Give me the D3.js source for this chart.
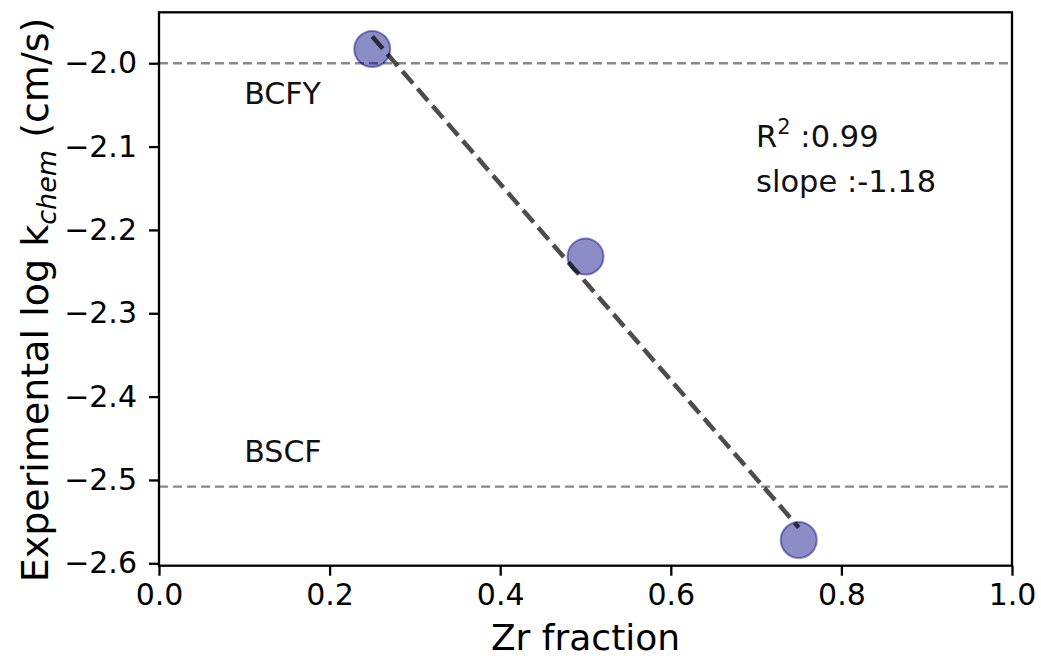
<!DOCTYPE html>
<html>
<head>
<meta charset="utf-8">
<script src="https://cdn.jsdelivr.net/npm/d3@7"></script>
<style>
  body { margin: 0; background: #fff; }
  svg { display: block; font-family: "DejaVu Sans", sans-serif; }
</style>
</head>
<body>
<svg width="1041" height="656"></svg>
<script>
// Measured points (Zr fraction vs experimental log k_chem)
const zrFraction = [0.25, 0.50, 0.75];
const logKchem = [-1.983, -2.232, -2.572];

// Linear fit end points
const fitX = [0.25, 0.75];
const fitY = [-1.968, -2.557];

// Reference materials (horizontal dashed lines)
const refNames = ['BCFY', 'BSCF'];
const refValues = [-2.0, -2.508];

const xTicks = [0.0, 0.2, 0.4, 0.6, 0.8, 1.0];
const yTicks = [-2.0, -2.1, -2.2, -2.3, -2.4, -2.5, -2.6];

const fitR2 = '0.99';
const fitSlope = '-1.18';

const svg = d3.select('svg');
const margin = { left: 159, right: 1012, top: 12.3, bottom: 565.7 };

const x = d3.scaleLinear().domain([0, 1]).range([margin.left, margin.right]);
const y = d3.scaleLinear().domain([-2.6029, -1.9389]).range([margin.bottom, margin.top]);

// reference lines
svg.append('g')
    .selectAll('line')
    .data(refValues)
    .enter().append('line')
        .attr('x1', margin.left)
        .attr('x2', margin.right)
        .attr('y1', d => y(d))
        .attr('y2', d => y(d))
        .attr('stroke', '#888')
        .attr('stroke-width', 2.4)
        .attr('stroke-dasharray', '9,5');

// labels for the reference lines, BCFY below its line, BSCF above
const refLabelOffset = [-0.049, 0.029];
svg.append('g')
    .selectAll('text')
    .data(refNames)
    .enter().append('text')
        .attr('x', x(0.1))
        .attr('y', (d, i) => y(refValues[i] + refLabelOffset[i]))
        .attr('font-size', 30)
        .attr('fill', '#111')
        .text(d => d);

// scatter points
svg.append('g')
    .selectAll('circle')
    .data(zrFraction)
    .enter().append('circle')
        .attr('cx', d => x(d))
        .attr('cy', (d, i) => y(logKchem[i]))
        .attr('r', 18)
        .attr('fill', 'navy')
        .attr('fill-opacity', 0.45)
        .attr('stroke', 'navy')
        .attr('stroke-opacity', 0.45)
        .attr('stroke-width', 2);

// fit line
svg.append('line')
    .attr('x1', x(fitX[0])).attr('y1', y(fitY[0]))
    .attr('x2', x(fitX[1])).attr('y2', y(fitY[1]))
    .attr('stroke', '#000')
    .attr('stroke-opacity', 0.7)
    .attr('stroke-width', 4.5)
    .attr('stroke-dasharray', '16,7');

// fit annotation
const note = svg.append('g').attr('font-size', 30.5).attr('fill', '#111');
const r2 = note.append('text').attr('x', x(0.7)).attr('y', y(-2.1));
r2.append('tspan').text('R');
r2.append('tspan').attr('font-size', 21).attr('dy', -13).text('2');
r2.append('tspan').attr('dy', 13).text(' :' + fitR2);
note.append('text').attr('x', x(0.7)).attr('y', y(-2.154)).text('slope :' + fitSlope);

// axes
const xAxis = svg.append('g')
    .attr('transform', `translate(0,${margin.bottom})`)
    .call(d3.axisBottom(x).tickValues(xTicks).tickFormat(d3.format('.1f')).tickSize(10).tickPadding(8));
const yAxis = svg.append('g')
    .attr('transform', `translate(${margin.left},0)`)
    .call(d3.axisLeft(y).tickValues(yTicks).tickFormat(d => d3.format('.1f')(d).replace('-', '\u2212')).tickSize(10).tickPadding(12));

[xAxis, yAxis].forEach(a => {
    a.select('.domain').remove();
    a.selectAll('line').attr('stroke', '#000').attr('stroke-width', 2.3);
    a.selectAll('text').attr('font-size', 30).attr('fill', '#000').attr('font-family', '"DejaVu Sans", sans-serif');
});

// frame
svg.append('rect')
    .attr('x', margin.left).attr('y', margin.top)
    .attr('width', margin.right - margin.left)
    .attr('height', margin.bottom - margin.top)
    .attr('fill', 'none')
    .attr('stroke', '#000')
    .attr('stroke-width', 2.3);

// axis titles
svg.append('text')
    .attr('x', (margin.left + margin.right) / 2)
    .attr('y', 650)
    .attr('text-anchor', 'middle')
    .attr('font-size', 36)
    .attr('fill', '#000')
    .text('Zr fraction');

const yl = svg.append('text')
    .attr('transform', 'translate(48,300) rotate(-90)')
    .attr('text-anchor', 'middle')
    .attr('font-size', 38)
    .attr('fill', '#000');
yl.append('tspan').text('Experimental log k');
yl.append('tspan').attr('font-size', 27).attr('font-style', 'italic').attr('dy', 8).text('chem');
yl.append('tspan').attr('dy', -8).text(' (cm/s)');
</script>
</body>
</html>
